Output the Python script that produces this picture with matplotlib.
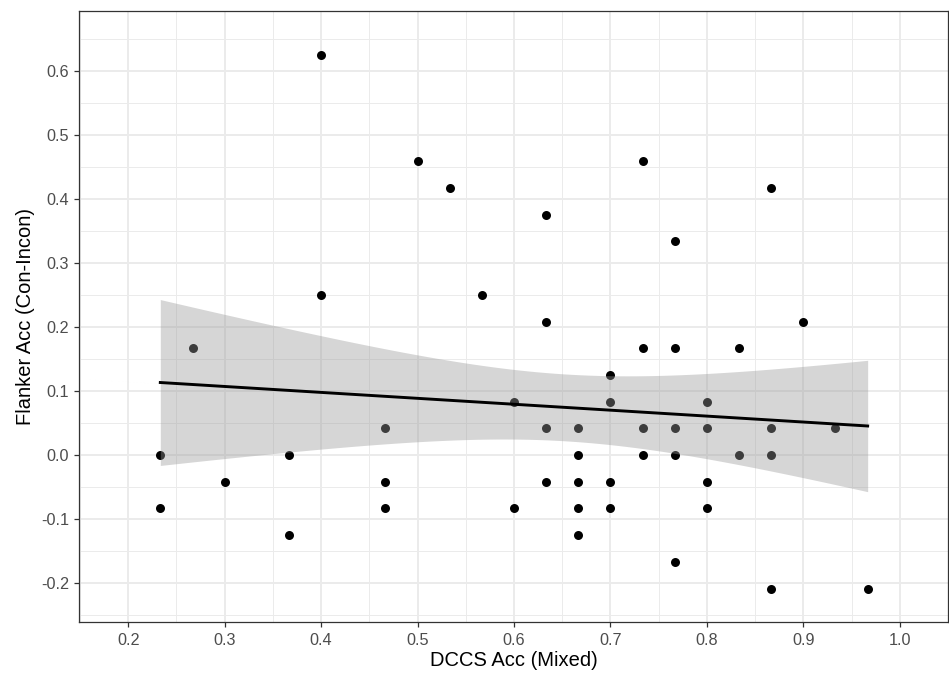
import numpy as np
import matplotlib
matplotlib.use('Agg')
import matplotlib.pyplot as plt
from matplotlib.ticker import MultipleLocator

plt.rcParams['font.family'] = ['Liberation Sans', 'DejaVu Sans']

# DCCS accuracy (mixed) and flanker accuracy difference
dccs = [0.2333, 0.2333,
        0.2667,
        0.3000,
        0.3667, 0.3667,
        0.4000, 0.4000,
        0.4667, 0.4667, 0.4667,
        0.5000,
        0.5333,
        0.5667,
        0.6000, 0.6000,
        0.6333, 0.6333, 0.6333, 0.6333,
        0.6667, 0.6667, 0.6667, 0.6667, 0.6667,
        0.7000, 0.7000, 0.7000, 0.7000,
        0.7333, 0.7333, 0.7333, 0.7333,
        0.7667, 0.7667, 0.7667, 0.7667, 0.7667,
        0.8000, 0.8000, 0.8000, 0.8000,
        0.8333, 0.8333,
        0.8667, 0.8667, 0.8667, 0.8667,
        0.9000,
        0.9333,
        0.9667]
flanker = [0.0, -0.0833,
           0.1667,
           -0.0417,
           0.0, -0.125,
           0.625, 0.25,
           0.0417, -0.0417, -0.0833,
           0.4583,
           0.4167,
           0.25,
           0.0833, -0.0833,
           0.375, 0.2083, 0.0417, -0.0417,
           0.0417, 0.0, -0.0417, -0.0833, -0.125,
           0.125, 0.0833, -0.0417, -0.0833,
           0.4583, 0.1667, 0.0417, 0.0,
           0.3333, 0.1667, 0.0417, 0.0, -0.1667,
           0.0833, 0.0417, -0.0417, -0.0833,
           0.1667, 0.0,
           0.4167, 0.0417, 0.0, -0.2083,
           0.2083,
           0.0417,
           -0.2083]

x = np.array(dccs)
y = np.array(flanker)
n = len(x)

# linear fit with 95% confidence band (like geom_smooth(method='lm'))
b1, b0 = np.polyfit(x, y, 1)
resid = y - (b0 + b1 * x)
s = np.sqrt(np.sum(resid ** 2) / (n - 2))
df = n - 2
z = 1.959964
tq = z + (z**3 + z) / (4 * df) + (5 * z**5 + 16 * z**3 + 3 * z) / (96 * df**2)
xs = np.linspace(x.min(), x.max(), 80)
fit = b0 + b1 * xs
se = s * np.sqrt(1 / n + (xs - x.mean()) ** 2 / np.sum((x - x.mean()) ** 2))

fig = plt.figure(figsize=(9.49, 6.75), dpi=100)
ax = fig.add_axes([79 / 949, 1 - 622 / 675, 869 / 949, 611 / 675])

ax.scatter(x, y, s=42, color='black', linewidths=0, zorder=3)
ax.fill_between(xs, fit - tq * se, fit + tq * se, color='#999999', alpha=0.4,
                linewidth=0, zorder=4)
ax.plot(xs, fit, color='black', lw=2.1, zorder=5)

ax.set_xlim(0.149, 1.05)
ax.set_ylim(-0.2605, 0.693)
ax.xaxis.set_minor_locator(MultipleLocator(0.05))
ax.yaxis.set_minor_locator(MultipleLocator(0.05))
ax.set_xticks(np.arange(0.2, 1.01, 0.1))
ax.set_xticklabels(['0.2', '0.3', '0.4', '0.5', '0.6', '0.7', '0.8', '0.9', '1.0'])
ax.set_yticks(np.arange(-0.2, 0.61, 0.1))
ax.set_yticklabels(['-0.2', '-0.1', '0.0', '0.1', '0.2', '0.3', '0.4', '0.5', '0.6'])

ax.grid(which='major', color='#ebebeb', lw=1.4, zorder=0)
ax.grid(which='minor', color='#ebebeb', lw=0.7, zorder=0)
ax.set_axisbelow(True)

for sp in ax.spines.values():
    sp.set_color('#333333')
    sp.set_linewidth(0.9)
ax.tick_params(which='major', length=3.6, width=0.9, color='#333333',
               labelsize=11.7, labelcolor='#4d4d4d')
ax.tick_params(axis='y', pad=3.5)
ax.tick_params(axis='x', pad=4.5)
ax.tick_params(which='minor', length=0)

ax.set_xlabel('DCCS Acc (Mixed)', fontsize=14.5, labelpad=2)
ax.set_ylabel('Flanker Acc (Con-Incon)', fontsize=14.5, labelpad=4)

fig.savefig('out.png', dpi=100)
